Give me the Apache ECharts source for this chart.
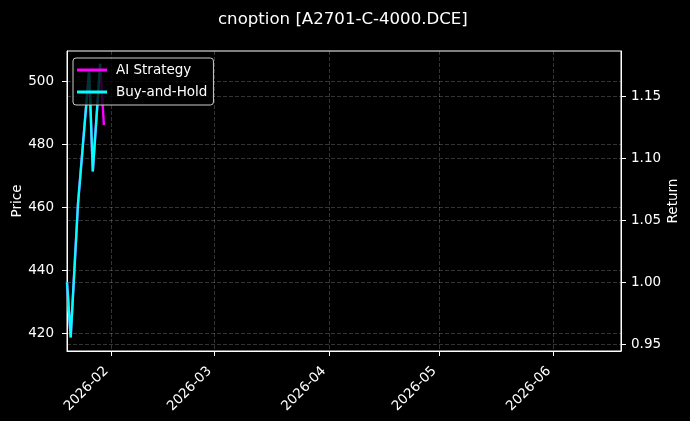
<!DOCTYPE html>
<html>
<head>
<meta charset="utf-8">
<title>cnoption [A2701-C-4000.DCE]</title>
<script src="https://cdn.jsdelivr.net/npm/echarts@6/dist/echarts.min.js"></script>
<style>
  html, body { margin: 0; padding: 0; background: #000; }
  #chart { width: 690px; height: 421px; }
</style>
</head>
<body>
<div id="chart"></div>
<script>
  // trading days shown on the chart
  var dates = ['2026-01-20', '2026-01-21', '2026-01-22', '2026-01-23', '2026-01-26',
               '2026-01-27', '2026-01-28', '2026-01-29', '2026-01-30'];
  // cumulative return
  var aiStrategy = [1.000, 0.9556, 1.010, 1.064, 1.1708, 1.0892, 1.1328, 1.176, 1.1267];
  var buyAndHold = [1.000, 0.9556, 1.010, 1.064, 1.1708, 1.0892, 1.1328, 1.176, null];

  var monthTicks = ['2026-02-01', '2026-03-01', '2026-04-01', '2026-05-01', '2026-06-01'];
  var priceTicks = [420, 440, 460, 480, 500];
  var returnTicks = [0.95, 1.00, 1.05, 1.10, 1.15];

  var font = 'DejaVu Sans';
  var gridLine = {
    show: true,
    lineStyle: { color: 'rgba(255,255,255,0.26)', type: [4, 2], width: 0.8 }
  };

  // dates are kept as UTC milliseconds on a plain value axis
  function ms(d) { return Date.parse(d.length > 10 ? d + 'Z' : d + 'T00:00:00Z'); }

  function pairs(values) {
    return dates.map(function (d, i) { return [ms(d), values[i]]; });
  }

  function two(n) { return (n < 10 ? '0' : '') + n; }

  var chart = echarts.init(document.getElementById('chart'));

  chart.setOption({
    backgroundColor: '#000',
    animation: false,
    textStyle: { fontFamily: font },
    title: {
      text: 'cnoption [A2701-C-4000.DCE]',
      left: 213,
      top: 6,
      textStyle: { color: '#fff', fontSize: 16.6, fontWeight: 'normal', fontFamily: font }
    },
    grid: {
      left: 67,
      right: 69,
      top: 51,
      bottom: 70,
      outerBoundsMode: 'none',
      containLabel: false,
      show: true,
      borderColor: '#fff',
      borderWidth: 1,
      backgroundColor: 'transparent'
    },
    legend: {
      orient: 'vertical',
      left: 73,
      top: 58,
      icon: 'rect',
      itemWidth: 30,
      itemHeight: 3,
      itemGap: 6,
      padding: [4, 6, 5, 4],
      backgroundColor: 'rgba(0,0,0,0.8)',
      borderColor: '#cccccc',
      borderWidth: 1,
      borderRadius: 3,
      textStyle: { color: '#fff', fontSize: 13.5, lineHeight: 16, fontFamily: font, padding: [0, 0, 0, 4] },
      data: ['AI Strategy', 'Buy-and-Hold']
    },
    xAxis: {
      type: 'value',
      min: ms('2026-01-20'),
      max: ms('2026-06-19T06:00:00'),
      axisLine: { show: true, lineStyle: { color: '#fff', width: 1 } },
      axisTick: { show: true, length: 5, customValues: monthTicks.map(ms), lineStyle: { color: '#fff' } },
      axisLabel: {
        customValues: monthTicks.map(ms),
        rotate: 45,
        margin: 13,
        padding: [0, 7, 0, 0],
        color: '#fff',
        fontSize: 13.5,
        fontFamily: font,
        formatter: function (v) {
          var d = new Date(v);
          return d.getUTCFullYear() + '-' + two(d.getUTCMonth() + 1);
        }
      },
      splitLine: gridLine
    },
    yAxis: [
      {
        type: 'value',
        position: 'left',
        min: 414.4,
        max: 509.75,
        name: 'Price',
        nameLocation: 'middle',
        nameGap: 43,
        nameMoveOverlap: false,
        nameRotate: 90,
        nameTextStyle: { color: '#fff', fontSize: 13.5, fontFamily: font },
        axisLine: { show: true, lineStyle: { color: '#fff', width: 1 } },
        axisTick: { show: true, length: 5, customValues: priceTicks, lineStyle: { color: '#fff' } },
        axisLabel: { customValues: priceTicks, margin: 13, color: '#fff', fontSize: 13.5, fontFamily: font },
        splitLine: gridLine
      },
      {
        type: 'value',
        position: 'right',
        min: 0.9446,
        max: 1.1863,
        name: 'Return',
        nameLocation: 'middle',
        nameGap: 45,
        nameMoveOverlap: false,
        nameRotate: 90,
        nameTextStyle: { color: '#fff', fontSize: 13.5, fontFamily: font },
        axisLine: { show: true, lineStyle: { color: '#fff', width: 1 } },
        axisTick: { show: true, length: 5, customValues: returnTicks, lineStyle: { color: '#fff' } },
        axisLabel: {
          customValues: returnTicks,
          margin: 10,
          color: '#fff',
          fontSize: 13.5,
          fontFamily: font,
          formatter: function (v) { return v.toFixed(2); }
        },
        splitLine: gridLine
      }
    ],
    series: [
      {
        name: 'AI Strategy',
        type: 'line',
        yAxisIndex: 1,
        showSymbol: false,
        color: '#ff00ff',
        lineStyle: { width: 2.4, color: '#ff00ff' },
        data: pairs(aiStrategy)
      },
      {
        name: 'Buy-and-Hold',
        type: 'line',
        yAxisIndex: 1,
        showSymbol: false,
        color: '#00ffff',
        lineStyle: { width: 2.4, color: '#00ffff' },
        data: pairs(buyAndHold)
      }
    ]
  });
</script>
</body>
</html>
